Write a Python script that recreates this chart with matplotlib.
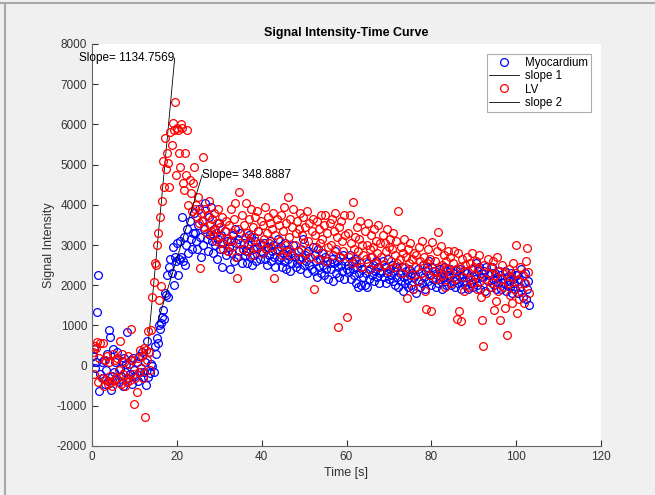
import numpy as np
import matplotlib
matplotlib.use("Agg")
import matplotlib.pyplot as plt
from matplotlib.lines import Line2D

plt.rcParams['font.family'] = ['Liberation Sans', 'DejaVu Sans']
plt.rcParams['axes.unicode_minus'] = False

# ---------------- data ----------------
# sampling grid: 0.25 s frames, 0.25 .. 103.0 s
dt = 0.25
n_frames = 412
time_s = np.arange(1, n_frames + 1) * dt

myocardium = [
    250, 420, -50, 100, 1330, 2250, -620, -200,
    80, -320, 150, -450, -100, 300, -380, 880,
    700, -600, -250, 420, -150, 100, -350, 350,
    -400, -80, -250, 120, -500, 200, -150, 30,
    830, -300, 50, -200, 150, -450, 200, -100,
    -250, 80, -380, 250, -150, -50, 350, -280,
    -150, 100, -480, 600, -280, 350, -180, 30,
    0, -150, 500, 300, 680, 550, 1000, 900,
    1050, 1200, 1380, 1150, 1800, 1750, 2250, 1700,
    2450, 2650, 2300, 2950, 2000, 2700, 2600, 3050,
    2250, 2650, 3100, 2700, 3700, 2600, 3200, 2500,
    3000, 3400, 2800, 3600, 3150, 2900, 3300, 3800,
    3300, 3100, 2900, 3500, 3900, 3200, 2700, 3600,
    3000, 3400, 4050, 3150, 2850, 3700, 3250, 3950,
    3100, 2800, 3400, 3000, 3300, 2650, 3150, 3550,
    2900, 3250, 2450, 3050, 3350, 2750, 3100, 2850,
    2950, 2400, 3100, 2800, 3250, 2600, 3400, 3050,
    2700, 3150, 2850, 3300, 2550, 2900, 3050, 2750,
    2850, 2550, 3000, 3250, 2700, 3200, 2500, 2900,
    2750, 3100, 2600, 2950, 3350, 2650, 2850, 3000,
    2800, 3050, 2650, 2900, 2500, 2950, 2750, 3100,
    2600, 2850, 3000, 2700, 2450, 2900, 3150, 2650,
    2700, 2950, 2450, 2800, 2600, 3050, 2400, 2750,
    2650, 2900, 2350, 2800, 2550, 3000, 2700, 2450,
    2550, 2850, 2650, 2400, 2900, 2700, 3150, 2500,
    2750, 2600, 2300, 2850, 2500, 2700, 2400, 2950,
    2350, 2750, 2600, 2200, 2900, 2450, 2650, 2300,
    2800, 2500, 2250, 2700, 2400, 2600, 2150, 2550,
    2400, 2650, 2100, 2550, 2850, 2300, 2600, 2450,
    2200, 2700, 2500, 2350, 2750, 2150, 2600, 2400,
    2500, 2350, 2750, 2150, 2600, 2400, 2250, 2650,
    2050, 2450, 1950, 2300, 2550, 2000, 2400, 2200,
    2000, 2300, 1950, 2550, 2150, 2400, 2700, 2250,
    2500, 2100, 2350, 2600, 2200, 2450, 2050, 2300,
    2350, 2600, 2200, 2450, 2050, 2300, 2650, 2150,
    2400, 2250, 2500, 2100, 2350, 2000, 2450, 2200,
    1950, 2300, 2100, 2450, 1850, 2200, 2050, 2350,
    2150, 1950, 2400, 2250, 2000, 2300, 1900, 2200,
    2250, 1800, 2400, 2100, 1950, 2300, 2050, 2500,
    2200, 1900, 2350, 2450, 2100, 2600, 2250, 2000,
    2450, 2150, 2350, 1950, 2250, 2050, 2400, 2150,
    2300, 1900, 2200, 2450, 2100, 2000, 2350, 2250,
    2200, 2400, 2000, 2300, 2100, 1950, 2350, 2150,
    2050, 2250, 2400, 1900, 2200, 2100, 2350, 2000,
    2100, 2300, 1900, 2200, 2050, 2400, 1950, 2250,
    2150, 2550, 2000, 2350, 2450, 1900, 2200, 2300,
    2200, 2350, 1850, 2450, 2100, 2250, 1950, 2300,
    2450, 2150, 2000, 2300, 1900, 2200, 2050, 2350,
    2250, 1900, 2150, 2050, 2350, 1850, 2200, 2000,
    2100, 1950, 2300, 1800, 2150, 2050, 1900, 2250,
    2250, 1800, 2150, 1950, 2400, 1700, 2050, 2300,
    1650, 1900, 2100, 1500,
]

lv = [
    350, -200, 500, 450, 580, -400, 200, 550,
    -300, 550, -500, 150, -350, 250, -450, 100,
    -250, -400, -500, 300, -350, 150, -300, 200,
    -100, 610, -450, 300, -200, 100, -500, -300,
    -400, 250, 50, -350, 900, 150, -200, -960,
    -300, -650, 200, -150, 400, -50, 250, -300,
    450, -1280, 400, 150, 850, 330, -100, 880,
    1700, 2070, 2550, 2500, 3000, 3300, 1630, 3700,
    1980, 4100, 5100, 4450, 5650, 4900, 5280, 5040,
    4450, 5800, 5480, 6030, 5850, 6560, 4740, 5900,
    5850, 5280, 4950, 6000, 5900, 4540, 4370, 5300,
    4750, 5850, 4000, 4610, 4300, 3850, 4550, 4950,
    3900, 4000, 3700, 4200, 3550, 2430, 3800, 3600,
    5190, 3450, 3900, 3300, 3750, 4100, 3500, 3350,
    3650, 3250, 3800, 3400, 3100, 3550, 3900, 3200,
    3450, 3050, 3700, 2900, 3350, 3600, 3150, 2850,
    3500, 3100, 3900, 2950, 3300, 3650, 4050, 2700,
    2180, 3400, 4320, 3050, 3750, 2900, 3500, 3200,
    4050, 3300, 2850, 3650, 3100, 3900, 2750, 3450,
    3200, 3700, 2950, 3850, 3350, 3050, 3600, 2800,
    3500, 3150, 3950, 2900, 3300, 3700, 3050, 3550,
    2950, 3400, 3800, 2170, 3250, 3650, 2850, 3500,
    3100, 3750, 2750, 3350, 3950, 3000, 3550, 2850,
    4200, 3200, 3650, 2750, 3450, 3900, 3000, 3300,
    3600, 2850, 3400, 3800, 2650, 3250, 3700, 3050,
    3450, 2800, 3850, 3100, 3550, 2700, 3350, 3650,
    1900, 3250, 2950, 3600, 2650, 3400, 3050, 3750,
    3150, 2800, 3500, 3750, 2600, 3300, 2950, 3550,
    3000, 3650, 2750, 3350, 3800, 2900, 3200, 960,
    3450, 2700, 3600, 3100, 2850, 3750, 3250, 1210,
    3300, 2700, 3750, 3050, 2550, 4060, 2900, 3200,
    2600, 3450, 2850, 3150, 3600, 2450, 3000, 2750,
    3350, 2650, 3000, 3550, 2400, 2900, 3250, 2700,
    2950, 3400, 2550, 3100, 2800, 3500, 2450, 3050,
    2700, 3250, 2500, 3050, 2850, 3400, 2350, 2950,
    3150, 2600, 2900, 3300, 2450, 2750, 3100, 2550,
    3840, 2650, 2950, 2300, 2800, 3150, 2450, 2700,
    1680, 2900, 2550, 3050, 2250, 2650, 1900, 2800,
    2450, 2750, 2100, 2950, 2600, 2300, 3100, 2500,
    2700, 1850, 1410, 2550, 2900, 2250, 2650, 1360,
    3070, 2350, 2600, 2150, 2850, 3330, 2450, 2200,
    2980, 2500, 2250, 2750, 1950, 2600, 2400, 2850,
    2300, 2700, 2050, 2550, 2850, 2150, 2400, 1160,
    2800, 1360, 2450, 1100, 2650, 2200, 1850, 2500,
    2350, 2700, 1950, 2550, 2150, 2800, 2050, 2450,
    2250, 2600, 1900, 2400, 2750, 2100, 1700, 1130,
    490, 2500, 2150, 1800, 2650, 2300, 1950, 2450,
    2050, 2600, 1380, 2250, 1600, 2700, 1850, 2350,
    1130, 2150, 2500, 1950, 1430, 2300, 760, 2050,
    2400, 1750, 2200, 1550, 2550, 1900, 2300, 3000,
    1300, 2100, 1650, 2450, 1850, 2250, 1550, 2050,
    2600, 2920, 2340, 1800,
]

# fitted up-slopes (end points)
slope1 = 1134.7569
slope1_x = [13.0, 19.5]
slope1_top = 7650
slope2 = 348.8887
slope2_x = [15.5, 26.0]
slope2_top = 4750

# ---------------- figure ----------------
fig = plt.figure(figsize=(6.55, 4.95), dpi=100, facecolor='#f0f0f0')
ax = fig.add_axes([92 / 655, 1 - 446 / 495, (601 - 92) / 655, (446 - 44) / 495])
ax.set_facecolor('white')

ax.plot(time_s, myocardium, 'o', mfc='none', mec='#0000ff', ms=5.6, mew=0.9, label='Myocardium')
l1y = [slope1_top - slope1 * (slope1_x[1] - x) for x in slope1_x]
ax.plot(slope1_x, l1y, '-', color='black', lw=0.6, label='slope 1')
ax.plot(time_s, lv, 'o', mfc='none', mec='#ff0000', ms=5.6, mew=0.9, label='LV')
l2y = [slope2_top - slope2 * (slope2_x[1] - x) for x in slope2_x]
ax.plot(slope2_x, l2y, '-', color='black', lw=0.6, label='slope 2')

ax.text(slope1_x[1], l1y[1], 'Slope= %.4f' % slope1, ha='right', va='center', fontsize=8.5)
ax.text(slope2_x[1], l2y[1], 'Slope= %.4f' % slope2, ha='left', va='center', fontsize=8.5)

ax.set_xlim(0, 120)
ax.set_ylim(-2000, 8000)
ax.set_xticks(np.arange(0, 121, 20))
ax.set_yticks(np.arange(-2000, 8001, 1000))
ax.tick_params(direction='in', length=4, labelsize=8.5, colors='#333333', width=0.8)
for s in ['top', 'right']:
    ax.spines[s].set_visible(False)
for s in ['left', 'bottom']:
    ax.spines[s].set_color('#666666')
    ax.spines[s].set_linewidth(0.8)

ax.set_title('Signal Intensity-Time Curve', fontsize=9, fontweight='bold', pad=6)
ax.set_xlabel('Time [s]', fontsize=9, color='#333333', labelpad=3)
ax.set_ylabel('Signal Intensity', fontsize=9, color='#333333', labelpad=1)

leg = ax.legend(loc='upper right', fontsize=8.3, frameon=True, fancybox=False,
                edgecolor='#999999', borderpad=0.25, handlelength=2.6,
                labelspacing=0.1, handletextpad=0.5, borderaxespad=0.2,
                bbox_to_anchor=(0.985, 0.98))
leg.get_frame().set_linewidth(0.8)

# screenshot frame on top and left
fig.add_artist(Line2D([0, 1], [1 - 3 / 495, 1 - 3 / 495], color='#a8a8a8', lw=1.5))
fig.add_artist(Line2D([5 / 655, 5 / 655], [0, 1 - 3 / 495], color='#a8a8a8', lw=1.5))

fig.savefig('out.png', dpi=100, facecolor=fig.get_facecolor())
